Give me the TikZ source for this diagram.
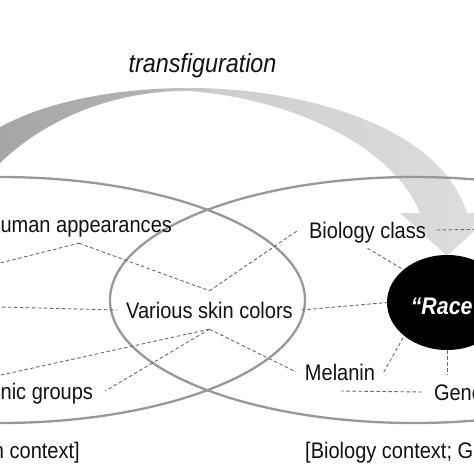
\documentclass[tikz,border=0pt]{standalone}
\usepackage{fontspec}
\setmainfont{Liberation Sans}[FakeStretch=0.89]
\usetikzlibrary{shapes.geometric,calc}
\definecolor{arrL}{RGB}{166,166,166}
\definecolor{arrLb}{RGB}{178,178,178}
\definecolor{arrM}{RGB}{206,206,206}
\definecolor{arrR}{RGB}{222,222,222}
\definecolor{txt}{RGB}{18,18,18}
\definecolor{ellcol}{RGB}{152,152,152}
\definecolor{dashcol}{RGB}{105,105,105}
\pgfdeclarehorizontalshading{arrowshade}{100bp}{color(0bp)=(arrL); color(25bp)=(arrL); color(40bp)=(arrLb); color(47bp)=(arrM); color(75bp)=(arrR); color(100bp)=(arrR)}
\begin{document}
\begin{tikzpicture}[x=1pt,y=-1pt,
  lbl/.style={font=\fontsize{22.5pt}{26pt}\selectfont, text height=16pt, text depth=0pt,
              inner xsep=10pt, inner ysep=11pt, text=txt},
  ctx/.style={font=\fontsize{22.5pt}{26pt}\selectfont, inner sep=0pt, text=txt},
  dline/.style={draw=dashcol, line width=0.9pt, dash pattern=on 3.5pt off 2.5pt},
  bigell/.style={draw=ellcol, line width=2.3pt},
  raceell/.style={ellipse, fill=black, minimum width=120pt, minimum height=95pt, inner sep=0pt,
              text=white, font=\bfseries\itshape\fontsize{24pt}{28pt}\selectfont,
              text height=24pt, text depth=0pt}]
\useasboundingbox (0,0) rectangle (474,474);
\fill[white] (0,0) rectangle (474,474);
\clip (0,0) rectangle (474,474);

% curved transfiguration arrow
\shade[shading=arrowshade] (0,127) .. controls (50,100) and (120,88) .. (190,88)
  .. controls (300,88) and (440,125) .. (467,213) -- (494,213) -- (447,256) -- (400,213) -- (420,213)
  .. controls (395,150) and (300,100) .. (190,91)
  .. controls (120,90) and (50,115) .. (0,163) -- cycle;

% two overlapping context ellipses
\draw[bigell] (0,300) ellipse [x radius=305pt, y radius=123pt];
\draw[bigell] (414,300) ellipse [x radius=304pt, y radius=123pt];

% labels
\node[ctx, font=\itshape\fontsize{26.2pt}{30pt}\selectfont, anchor=base] (title) at (202.5,72) {transfiguration};
\node[lbl] (hum) at (79,224) {Human appearances};
\node[lbl, inner xsep=8.5pt] (vsc) at (209.5,310) {Various skin colors};
\node[lbl, inner xsep=10.5pt, inner ysep=10pt] (bio) at (367.5,230) {Biology class};
\node[lbl, inner xsep=8.5pt] (mel) at (340,372) {Melanin};
\node[lbl, inner xsep=12pt] (eth) at (31.8,391) {Ethnic groups};
\node[lbl, inner xsep=12pt, inner ysep=9pt] (gen) at (463.5,392) {Genes};
\node[raceell] (race) at (447,302.5) {“Race”};
\node[ctx, anchor=base east] (lctx) at (80,458) {[Human context]};
\node[ctx, anchor=base west] (rctx) at (305,458) {[Biology context; Genetics]};

% free ends
\coordinate (lfar1) at (-40,273);
\coordinate (lfar2) at (-40,306);
\coordinate (lfar3) at (-40,384);
\coordinate (rfar1) at (500,229);
\coordinate (gfree) at (341,391);

% dashed connectors
\draw[dline] (lfar1) -- (hum.south);
\draw[dline] (hum.south) -- (vsc.north);
\draw[dline] (vsc.north) -- (bio.west);
\draw[dline] (lfar2) -- (vsc.west);
\draw[dline] (vsc.south) -- (lfar3);
\draw[dline] (vsc.south) -- (eth.east);
\draw[dline] (vsc.south) -- (mel.west);
\draw[dline] (vsc.east) -- (race.west);
\draw[dline] (bio.south) -- (race.143);
\draw[dline] (bio.east) -- (rfar1);
\draw[dline] (mel.east) -- (race.218);
\draw[dline] (race.south) -- (race.south |- gen.north);
\draw[dline] (gen.west) -- (gfree);
\end{tikzpicture}
\end{document}
